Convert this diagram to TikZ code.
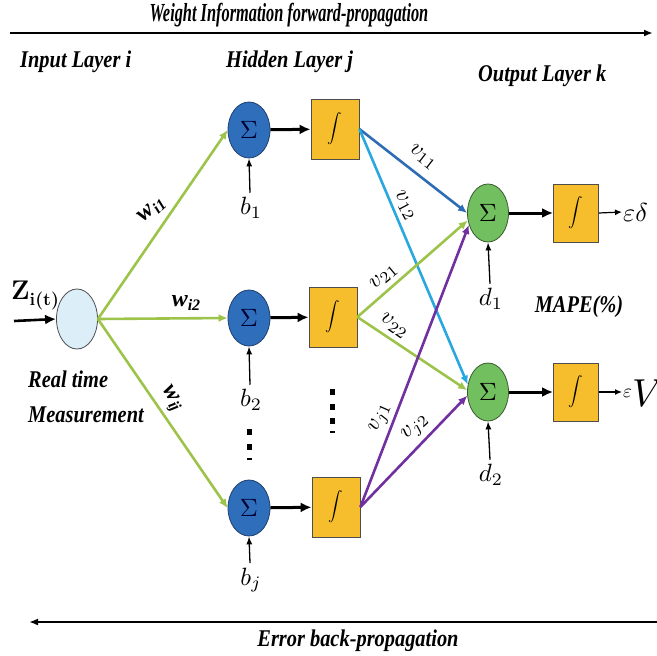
\RequirePackage{fix-cm}
\documentclass[tikz,border=0pt]{standalone}
\usepackage{fontspec}
\usetikzlibrary{arrows.meta,shapes.geometric}
\newfontfamily\capfont[FakeStretch=0.85]{Liberation Serif}
\newfontfamily\wtfont{Liberation Serif}
\newcommand{\wlab}[1]{{\wtfont\bfseries\itshape w\raisebox{-4pt}{\fontsize{16}{16}\selectfont #1}}}
\newcommand{\mbig}[2]{\scalebox{#1}{$#2$}}
\newcommand{\sumsign}{\mbig{2.5}{\Sigma}}
\newcommand{\intsign}{\scalebox{1.45}{$\displaystyle\int$}}

\definecolor{sumblue}{HTML}{2F6EBA}
\definecolor{sumedge}{HTML}{1F3F6E}
\definecolor{actyellow}{HTML}{F6BE2C}
\definecolor{boxedge}{HTML}{4D4D4D}
\definecolor{outgreen}{HTML}{72BF5F}
\definecolor{outedge}{HTML}{3A5A30}
\definecolor{inblue}{HTML}{DCEFF8}
\definecolor{wgreen}{HTML}{9DC34A}
\definecolor{vdark}{HTML}{2E6DB4}
\definecolor{vlight}{HTML}{29A8E0}
\definecolor{vpurple}{HTML}{7030A0}

\tikzset{
  caption/.style={font=\capfont\bfseries\itshape\fontsize{24}{26}\selectfont, inner sep=0pt},
  hsum/.style={ellipse, draw=sumedge, fill=sumblue, line width=0.8pt,
    minimum width=42pt, minimum height=56pt, inner sep=0pt, text=black!80!blue},
  osum/.style={ellipse, draw=outedge, fill=outgreen, line width=0.8pt,
    minimum width=41pt, minimum height=58pt, inner sep=0pt},
  actbox/.style={rectangle, draw=boxedge, fill=actyellow, line width=0.8pt,
    minimum width=48pt, minimum height=60pt, inner sep=0pt},
  inell/.style={ellipse, draw=boxedge, fill=inblue, line width=0.8pt,
    minimum width=41pt, minimum height=60pt, inner sep=0pt},
  mlabel/.style={inner sep=0.5pt},
  heavy/.style={line width=3pt, -{Latex[length=11pt,width=10pt]}},
  bias/.style={line width=1.3pt, -{Latex[length=8pt,width=6pt]}},
  wline/.style={line width=2.6pt, -{Latex[length=9pt,width=8pt]}},
  thinarrow/.style={line width=1.2pt, -{Latex[length=7pt,width=6pt]}},
  dotmark/.style={fill=black, draw=none},
}

\begin{document}
\begin{tikzpicture}[x=1pt,y=-1pt]
\useasboundingbox (0,0) rectangle (657,656);

% propagation arrows
\coordinate (fwdA) at (10,33);
\coordinate (fwdB) at (653,33);
\draw[line width=2pt, -{Latex[length=9pt,width=7pt]}] (fwdA) -- (fwdB);
\node[caption, font=\capfont\bfseries\itshape\fontsize{26}{28}\selectfont] (fwdtxt) at (289,15) {\scalebox{0.74}[1]{Weight Information forward-propagation}};
\coordinate (backA) at (657,622);
\coordinate (backB) at (29,622);
\draw[line width=2pt, -{Latex[length=9pt,width=7pt]}] (backA) -- (backB);
\node[caption] (backtxt) at (358,641) {Error back-propagation};

% layer titles
\node[caption, anchor=west] (tin) at (20,62) {Input Layer i};
\node[caption, anchor=west] (thid) at (226,62) {Hidden Layer j};
\node[caption, anchor=west] (tout) at (478,76) {Output Layer k};
\node[caption, anchor=west] (rt1) at (28,379) {Real time};
\node[caption, anchor=west] (rt2) at (28,415) {Measurement};
\node[caption] (mape) at (579,307) {MAPE(\%)};

% input
\node[inell] (in) at (77,319) {};
\coordinate (zin) at (14,321);
\draw[heavy, line width=2.6pt] (zin) -- (in.west);
\node[inner sep=0pt] (zlab) at (35,295) {\fontsize{27}{27}\selectfont\bfseries Z\raisebox{-6pt}{\fontsize{18}{18}\selectfont\bfseries i(t)}};

% hidden layer
\node[hsum] (h1) at (249,130) {\sumsign};
\node[hsum] (h2) at (249,318) {\sumsign};
\node[hsum] (h3) at (249,508) {\sumsign};
\node[actbox] (f1) at (335,129) {\intsign};
\node[actbox] (f2) at (333,317) {\intsign};
\node[actbox] (f3) at (336,507) {\intsign};
\draw[heavy] (h1) -- (f1);
\draw[heavy] (h2) -- (f2);
\draw[heavy] (h3) -- (f3);

\node[mlabel] (b1) at (251,208) {\mbig{2.5}{b_1}};
\node[mlabel] (b2) at (251,400) {\mbig{2.5}{b_2}};
\node[mlabel] (bj) at (251,580) {\mbig{2.5}{b_j}};
\draw[bias] (b1.north) ++(-1,-4) -- (h1.south);
\draw[bias] (b2.north) ++(-1,-4) -- (h2.south);
\draw[bias] (bj.north) ++(-1,-4) -- (h3.south);

% vertical ellipsis marks
\foreach \yy in {432,447} \fill[dotmark] (246.5,\yy-3) rectangle (251.5,\yy+3);
\fill[dotmark] (246.5,458) rectangle (251.5,460);
\foreach \yy in {392,407,421} \fill[dotmark] (329.5,\yy-3) rectangle (334.5,\yy+3);
\fill[dotmark] (329.5,431) rectangle (334.5,433);

% input-to-hidden weights
\draw[wline, wgreen] (in.east) -- (h1.west);
\draw[wline, wgreen] (in.east) -- (h2.west);
\draw[wline, wgreen] (in.east) -- (h3.west);
\node[inner sep=0.5pt, font=\fontsize{24}{24}\selectfont, rotate=42] (w1) at (152,210) {\wlab{i1}};
\node[inner sep=0.5pt, font=\fontsize{24}{24}\selectfont] (w2) at (186,303) {\wlab{i2}};
\node[inner sep=0.5pt, font=\fontsize{24}{24}\selectfont, rotate=-58] (wj) at (171,399) {\wlab{ij}};

% output layer
\node[osum] (o1) at (488,213) {\sumsign};
\node[osum] (o2) at (488,392) {\sumsign};
\node[actbox, minimum width=45pt, minimum height=58pt] (g1) at (576,213) {\intsign};
\node[actbox, minimum width=45pt, minimum height=58pt] (g2) at (576,392) {\intsign};
\draw[heavy] (o1) -- (g1);
\draw[heavy] (o2) -- (g2);

\node[mlabel, anchor=west, inner sep=1pt] (e1) at (622,212) {\mbig{2.6}{\varepsilon\delta}};
\node[anchor=west, inner sep=1pt] (e2) at (622,393) {\raisebox{9pt}{\mbig{1.9}{\varepsilon}}\mbig{3.9}{V}};
\draw[thinarrow] (g1.east) -- (e1.west);
\draw[thinarrow] (g2.east) -- (e2.west |- g2.east);

\node[mlabel] (d1) at (491,299) {\mbig{2.5}{d_1}};
\node[mlabel] (d2) at (491,475) {\mbig{2.5}{d_2}};
\draw[bias] (d1.north) ++(-1,-4) -- (o1.south);
\draw[bias] (d2.north) ++(-1,-4) -- (o2.south);

% hidden-to-output weights
\draw[wline, vdark] (f1.east) -- (o1.west);
\draw[wline, vlight] (f1.east) -- (o2.160);
\draw[wline, wgreen] (f2.east) -- (o1.200);
\draw[wline, wgreen] (f2.east) -- (o2.175);
\draw[wline, vpurple] (f3.east) -- (o1.212);
\draw[wline, vpurple] (f3.east) -- (o2.190);

\node[mlabel, rotate=-38] (v11) at (423,157) {\mbig{2.3}{v_{11}}};
\node[mlabel, rotate=-62] (v12) at (405,206) {\mbig{2.3}{v_{12}}};
\node[mlabel, rotate=40] (v21) at (384,277) {\mbig{2.3}{v_{21}}};
\node[mlabel, rotate=-35] (v22) at (394,326) {\mbig{2.3}{v_{22}}};
\node[mlabel, rotate=66] (vj1) at (381,418) {\mbig{2.3}{v_{j1}}};
\node[mlabel, rotate=42] (vj2) at (416,428) {\mbig{2.3}{v_{j2}}};
\end{tikzpicture}
\end{document}
